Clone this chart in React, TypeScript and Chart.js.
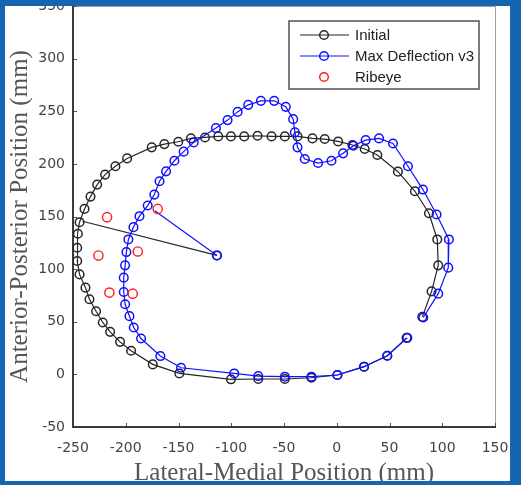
import { useEffect, useRef } from 'react';
import { Chart, registerables } from 'chart.js';

Chart.register(...registerables);

const initialX = [66.2, 47.9, 25.9, 0.6, -24, -49.2, -74.4, -100.3, -149.2, -174.4, -194.9, -205.4, -214.8, -221.8, -228.1, -234.4, -238.2, -243.8, -246, -246, -245.4, -243.8, -239.1, -233.4, -227.1, -219.6, -209.8, -198.7, -175.4, -163.4, -150.2, -138.2, -124.9, -112.3, -100.3, -87.7, -75.1, -61.8, -49.2, -37.2, -23, -11.4, 1.3, 14.8, 26.5, 38.5, 58, 74.1, 87.4, 95.3, 96.2, 89.9, 81.1];
const initialY = [34.7, 17.7, 7.3, -0.6, -3.2, -4.4, -4.4, -4.7, 0.9, 9.5, 22.4, 30.9, 40.4, 49.3, 60, 71.4, 82.4, 95, 107.7, 120.3, 133.6, 144.6, 157.2, 168.9, 180.3, 189.8, 197.7, 205.2, 215.7, 218.8, 221, 224.2, 225.1, 226.1, 226.1, 226.1, 226.7, 226.1, 226.1, 226.1, 224.2, 223.6, 221.3, 217.9, 214.1, 208.4, 192.6, 174, 153.1, 128.2, 103.6, 78.9, 54.6];

const maxDefX = [66.9, 47.9, 25.9, 0.6, -24, -49.2, -74.4, -97.2, -147.6, -167.2, -185.5, -192.4, -196.5, -200.6, -201.9, -201.9, -200.6, -199.4, -197.5, -192.7, -187, -179.2, -172.9, -168, -161.8, -153.9, -145.1, -135.6, -114.5, -103.5, -94, -83.9, -71.9, -59.3, -48.3, -41.3, -39.7, -37.2, -30.3, -17.7, -5, 6, 15.8, 27.4, 40.1, 53.3, 67.5, 81.7, 94.6, 106.3, 105.7, 96.2, 82];
const maxDefY = [34.7, 17.7, 7.3, -0.6, -2.2, -2.2, -1.6, 0.9, 6.3, 17.4, 34.1, 44.5, 55.3, 66.6, 78.3, 91.9, 103.6, 116.2, 128.2, 139.9, 150.3, 160.4, 170.8, 183.5, 192.9, 203, 211.6, 220.4, 234, 241.6, 249.4, 256.1, 259.9, 259.9, 254.2, 242.5, 229.9, 215.7, 204.6, 200.8, 203, 210, 217.2, 222.6, 224.2, 219.4, 197.7, 175.6, 151.9, 128.2, 101.4, 76.7, 54];

const ribeyeX = [-217.7, -169.7, -225.9, -188.6, -215.5, -193.4];
const ribeyeY = [149.4, 157.2, 113, 116.8, 77.7, 76.7];

const initialSpokeX = [-241, -113.6];
const initialSpokeY = [145.5, 113];
const maxDefSpokeX = [-172.5, -113.6];
const maxDefSpokeY = [155.5, 113];

const xTicks = [-250, -200, -150, -100, -50, 0, 50, 100, 150];
const yTicks = [-50, 0, 50, 100, 150, 200, 250, 300, 350];
const legendLabels = ['Initial', 'Max Deflection v3', 'Ribeye'];

const BLACK = '#262626';
const BLUE = '#1010ff';
const RED = '#ff1a1a';

const zip = (xs: number[], ys: number[]) => xs.map((x, i) => ({ x, y: ys[i] }));

const framePlugin = {
  id: 'frame',
  beforeDatasetsDraw(chart: any) {
    const { ctx, chartArea: a, scales } = chart;
    ctx.save();
    ctx.strokeStyle = '#a0a0a0';
    ctx.lineWidth = 1;
    ctx.beginPath();
    ctx.moveTo(a.left, a.top + 0.5);
    ctx.lineTo(a.right + 0.5, a.top + 0.5);
    ctx.lineTo(a.right + 0.5, a.bottom);
    ctx.stroke();
    ctx.strokeStyle = '#555';
    ctx.lineWidth = 1;
    ctx.beginPath();
    xTicks.forEach((v) => {
      const px = Math.round(scales.x.getPixelForValue(v)) + 0.5;
      ctx.moveTo(px, a.bottom);
      ctx.lineTo(px, a.bottom - 4);
    });
    yTicks.forEach((v) => {
      const py = Math.round(scales.y.getPixelForValue(v)) + 0.5;
      ctx.moveTo(a.left, py);
      ctx.lineTo(a.left + 4, py);
    });
    ctx.stroke();
    ctx.strokeStyle = '#3a3a3a';
    ctx.lineWidth = 2;
    ctx.beginPath();
    ctx.moveTo(a.left, a.top);
    ctx.lineTo(a.left, a.bottom);
    ctx.lineTo(a.right + 1, a.bottom);
    ctx.stroke();
    ctx.restore();
  },
};

const legendPlugin = {
  id: 'boxLegend',
  afterDraw(chart: any) {
    const { ctx } = chart;
    ctx.save();
    const bx = 289, by = 21, bw = 190, bh = 68;
    ctx.fillStyle = '#ffffff';
    ctx.fillRect(bx, by, bw, bh);
    ctx.strokeStyle = '#505050';
    ctx.lineWidth = 1.5;
    ctx.strokeRect(bx, by, bw, bh);
    const rows = [35, 56, 77];
    const colors = [BLACK, BLUE, RED];
    const lines = [true, true, false];
    ctx.font = '15px "Liberation Sans", Arial, sans-serif';
    ctx.textBaseline = 'middle';
    ctx.textAlign = 'left';
    rows.forEach((ry, i) => {
      ctx.strokeStyle = colors[i];
      ctx.lineWidth = 1.2;
      if (lines[i]) {
        ctx.beginPath();
        ctx.moveTo(300, ry);
        ctx.lineTo(349, ry);
        ctx.stroke();
      }
      ctx.lineWidth = 1.5;
      ctx.beginPath();
      ctx.arc(324, ry, 4.3, 0, Math.PI * 2);
      ctx.stroke();
      ctx.fillStyle = '#222';
      ctx.fillText(legendLabels[i], 355, ry + 1);
    });
    ctx.restore();
  },
};

export default function App() {
  const ref = useRef<HTMLCanvasElement>(null);

  useEffect(() => {
    if (!ref.current) return;
    const ringStyle = (color: string) => ({
      borderColor: color,
      backgroundColor: 'rgba(0,0,0,0)',
      pointBorderColor: color,
      pointBackgroundColor: 'rgba(0,0,0,0)',
      pointRadius: 4.3,
      pointBorderWidth: 1.5,
      borderWidth: 1.2,
      showLine: true,
      tension: 0,
    });
    const chart = new Chart(ref.current, {
      type: 'scatter',
      data: {
        datasets: [
          { label: legendLabels[0], data: zip(initialX, initialY), ...ringStyle(BLACK), order: 5 },
          { label: 'spoke0', data: zip(initialSpokeX, initialSpokeY), ...ringStyle(BLACK), pointRadius: [0, 4.3], order: 4 },
          { label: legendLabels[1], data: zip(maxDefX, maxDefY), ...ringStyle(BLUE), order: 3 },
          { label: 'spoke1', data: zip(maxDefSpokeX, maxDefSpokeY), ...ringStyle(BLUE), pointRadius: [0, 4.3], order: 2 },
          {
            label: legendLabels[2],
            data: zip(ribeyeX, ribeyeY),
            borderColor: RED,
            backgroundColor: 'rgba(0,0,0,0)',
            pointBorderColor: RED,
            pointBackgroundColor: 'rgba(0,0,0,0)',
            pointRadius: 4.6,
            pointBorderWidth: 1.4,
            showLine: false,
            order: 1,
          },
        ],
      },
      options: {
        responsive: false,
        animation: false,
        maintainAspectRatio: false,
        layout: { padding: { left: 0, top: 5, right: 26, bottom: 0 } },
        plugins: {
          legend: { display: false },
          tooltip: { enabled: false },
        },
        scales: {
          x: {
            type: 'linear',
            min: -250,
            max: 150,
            afterBuildTicks: (s: any) => { s.ticks = xTicks.map((v) => ({ value: v })); },
            afterFit: (s: any) => { s.height = 58; s.paddingLeft = 0; s.paddingRight = 0; },
            grid: { display: false, drawTicks: false },
            border: { display: false },
            ticks: {
              padding: 13,
              color: '#444',
              font: { family: '"DejaVu Sans"', size: 14 },
              maxRotation: 0,
              autoSkip: false,
            },
            title: {
              display: true,
              text: 'Lateral-Medial Position (mm)',
              color: '#555',
              font: { family: '"Liberation Serif"', size: 25, lineHeight: 1 },
              padding: { top: 0, bottom: -1 },
            },
          },
          y: {
            type: 'linear',
            min: -50,
            max: 350,
            afterBuildTicks: (s: any) => { s.ticks = yTicks.map((v) => ({ value: v })); },
            afterFit: (s: any) => { s.width = 73; s.paddingTop = 0; s.paddingBottom = 0; },
            grid: { display: false, drawTicks: false },
            border: { display: false },
            ticks: {
              padding: 8,
              color: '#444',
              font: { family: '"DejaVu Sans"', size: 14 },
              autoSkip: false,
            },
            title: {
              display: true,
              text: 'Anterior-Posterior Position (mm)',
              color: '#555',
              font: { family: '"Liberation Serif"', size: 25, lineHeight: 1 },
              padding: { top: 8, bottom: 0 },
            },
          },
        },
      },
      plugins: [framePlugin, legendPlugin],
    } as any);
    return () => chart.destroy();
  }, []);

  const blue = '#1565b0';
  return (
    <div style={{ position: 'fixed', left: 0, top: 0, width: 521, height: 485, background: '#fff', overflow: 'hidden' }}>
      <canvas ref={ref} width={521} height={485} style={{ display: 'block', width: 521, height: 485 }} />
      <div style={{ position: 'absolute', left: 0, top: 0, width: 521, height: 6, background: blue }} />
      <div style={{ position: 'absolute', left: 0, top: 0, width: 5, height: 485, background: blue }} />
      <div style={{ position: 'absolute', left: 510, top: 0, width: 11, height: 485, background: blue }} />
      <div style={{ position: 'absolute', left: 0, top: 481, width: 521, height: 4, background: blue }} />
    </div>
  );
}
